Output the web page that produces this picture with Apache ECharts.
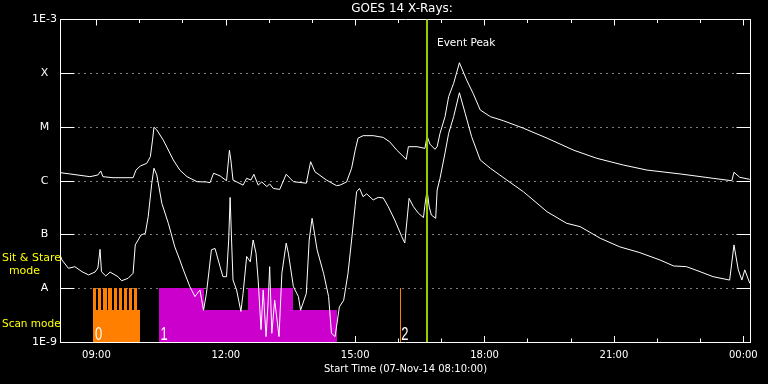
<!DOCTYPE html>
<html><head><meta charset="utf-8">
<script src="https://cdn.jsdelivr.net/npm/echarts@6/dist/echarts.min.js"></script>
<style>html,body{margin:0;padding:0;background:#000}#c{width:768px;height:384px}</style>
</head><body><div id="c"></div>
<script>
// ---- axis definition ----
const startTime = '08:10';
const endTime = '00:10';
const majorTicks = ['09:00','12:00','15:00','18:00','21:00','00:00'];
const hourTicks = ['09:00','10:00','11:00','12:00','13:00','14:00','15:00','16:00','17:00','18:00','19:00','20:00','21:00','22:00','23:00','00:00'];
const fluxMin = 1e-9, fluxMax = 1e-3;
const levelNames = {'-3':'1E-3','-4':'X','-5':'M','-6':'C','-7':'B','-8':'A','-9':'1E-9'};
const eventPeak = '16:39';

// ---- GOES 14 long channel (1-8 A), W/m^2 ----
const longChannel = [
 ['08:10',1.41e-6],['08:23',1.34e-6],['08:51',1.19e-6],['09:02',1.28e-6],['09:06',1.52e-6],['09:09',1.19e-6],
 ['09:23',1.14e-6],['09:51',1.14e-6],['09:55',1.58e-6],['10:01',1.88e-6],['10:10',2.11e-6],['10:15',2.8e-6],
 ['10:18',5.7e-6],['10:20',9.9e-6],['10:24',8.8e-6],['10:33',5.7e-6],['10:47',2.43e-6],['10:56',1.58e-6],
 ['11:06',1.19e-6],['11:20',9.6e-7],['11:33',9.5e-7],['11:38',9.2e-7],['11:43',1.38e-6],['11:52',1.23e-6],
 ['12:01',1.0e-6],['12:05',3.7e-6],['12:07',2.43e-6],['12:10',1.03e-6],['12:24',8.3e-7],['12:29',1.11e-6],
 ['12:35',1.03e-6],['12:39',1.32e-6],['12:45',8.3e-7],['12:50',9.5e-7],['12:57',7.8e-7],['13:01',8.7e-7],
 ['13:06',7.2e-7],['13:15',6.9e-7],['13:24',1.32e-6],['13:34',9.6e-7],['13:52',9.0e-7],['13:58',2.26e-6],
 ['14:04',1.47e-6],['14:20',1.03e-6],['14:34',8.1e-7],['14:39',8.3e-7],['14:48',9.5e-7],['14:55',1.71e-6],
 ['15:00',3.7e-6],['15:04',6.2e-6],['15:11',6.9e-6],['15:25',6.9e-6],['15:39',6.4e-6],['15:48',5.3e-6],
 ['15:58',3.7e-6],['16:05',3.0e-6],['16:11',2.5e-6],['16:14',4.3e-6],['16:26',4.3e-6],['16:37',4.0e-6],
 ['16:40',6.8e-6],['16:44',4.8e-6],['16:51',3.85e-6],['16:54',4.3e-6],['16:58',7.6e-6],['17:05',1.56e-5],
 ['17:10',3.66e-5],['17:17',6.5e-5],['17:25',1.57e-4],['17:35',7.5e-5],['17:44',4.24e-5],['17:54',2.07e-5],
 ['18:08',1.56e-5],['18:26',1.31e-5],['18:54',9.5e-6],['19:27',6.2e-6],['20:04',3.7e-6],['20:36',2.62e-6],
 ['21:13',1.96e-6],['21:46',1.58e-6],['22:32',1.34e-6],['23:18',1.11e-6],['23:44',1.0e-6],['23:47',1.44e-6],
 ['23:55',1.16e-6],['00:09',1.06e-6]
];

// ---- GOES 14 short channel (0.5-4 A), W/m^2 ----
const shortChannel = [
 ['08:10',3.98e-8],['08:12',3.36e-8],['08:21',2.35e-8],['08:30',2.52e-8],['08:40',2.03e-8],['08:49',1.77e-8],
 ['08:58',2.0e-8],['09:02',2.38e-8],['09:05',5.3e-8],['09:07',2.03e-8],['09:13',1.69e-8],['09:19',2.0e-8],
 ['09:30',1.64e-8],['09:35',1.38e-8],['09:44',1.53e-8],['09:51',1.9e-8],['09:54',6.4e-8],['09:58',7.9e-8],
 ['10:02',9.8e-8],['10:08',1.05e-7],['10:12',2.14e-7],['10:17',9.0e-7],['10:20',1.71e-6],['10:24',1.28e-6],
 ['10:31',3.8e-7],['10:40',1.62e-7],['10:49',5.9e-8],['10:56',3.36e-8],['11:01',2.19e-8],['11:10',1.07e-8],
 ['11:17',7.0e-9],['11:24',9.3e-9],['11:29',3.9e-9],['11:33',8.0e-9],['11:40',5.2e-8],['11:45',5.5e-8],
 ['11:52',2.52e-8],['11:56',1.64e-8],['12:01',1.64e-8],['12:04',7.9e-8],['12:06',4.9e-7],['12:08',7.9e-8],
 ['12:10',1.42e-8],['12:15',9.3e-9],['12:21',3.7e-9],['12:24',8.0e-9],['12:29',3.9e-8],['12:34',3.1e-8],
 ['12:38',7.9e-8],['12:42',4.5e-8],['12:45',1.42e-8],['12:49',1.7e-9],['12:52',9.3e-9],['12:56',1.26e-9],
 ['12:59',6.0e-9],['13:01',2.52e-8],['13:04',1.45e-9],['13:08',6.0e-9],['13:14',1.26e-9],['13:18',1.9e-8],
 ['13:24',6.9e-8],['13:27',4.5e-8],['13:34',1.07e-8],['13:41',7.0e-9],['13:44',3.9e-9],['13:52',8.0e-9],
 ['13:56',7.9e-8],['14:00',2.0e-7],['14:07',5.2e-8],['14:16',1.9e-8],['14:23',7.0e-9],['14:27',1.45e-9],
 ['14:32',1.26e-9],['14:38',4.5e-9],['14:44',6.0e-9],['14:50',1.9e-8],['14:55',7.9e-8],['15:00',3.5e-7],
 ['15:02',6.25e-7],['15:06',7.2e-7],['15:11',5.05e-7],['15:16',5.7e-7],['15:25',4.4e-7],['15:32',4.9e-7],
 ['15:39',4.8e-7],['15:46',3.3e-7],['15:55',1.86e-7],['16:05',9.0e-8],['16:09',6.95e-8],['16:15',4.7e-7],
 ['16:21',3.3e-7],['16:28',2.48e-7],['16:35',2.07e-7],['16:37',3.5e-7],['16:40',6.7e-7],['16:43',3.25e-7],
 ['16:46',2.3e-7],['16:52',2.0e-7],['16:54',6.7e-7],['16:58',1.11e-6],['17:05',3.3e-6],['17:10',7.6e-6],
 ['17:17',1.56e-5],['17:25',4.35e-5],['17:33',1.8e-5],['17:42',6.6e-6],['17:54',2.43e-6],['18:08',1.71e-6],
 ['18:31',1.03e-6],['18:54',6.25e-7],['19:27',2.65e-7],['19:54',1.62e-7],['20:13',1.4e-7],['20:41',8.5e-8],
 ['21:08',5.9e-8],['21:36',4.6e-8],['22:04',3.36e-8],['22:23',2.6e-8],['22:41',2.52e-8],['23:00',2.03e-8],
 ['23:18',1.64e-8],['23:41',1.42e-8],['23:47',6.4e-8],['23:53',2.2e-8],['23:58',1.42e-8],['00:02',2.2e-8],
 ['00:09',1.24e-8]
];

// ---- observing mode bars ----
const highLevel = 1e-8, lowLevel = 4e-9;
const scanBlocks = [['08:55','10:01']];
const scanStripeStarts = ['08:55','09:02','09:09','09:16','09:24','09:31','09:38','09:45','09:52'];
const scanStripeMinutes = 5;
const stareBlocks = [['10:27','11:30',highLevel],['11:30','12:31',lowLevel],['12:31','13:33',highLevel],['13:33','14:35',lowLevel]];
const scanMarks = ['16:03'];
const modeLabels = [['08:58','0'],['10:29','1'],['16:04','2']];

function toMin(s){const p=s.split(':');const h=+p[0],m=+p[1];let v=h*60+m;if(h<8)v+=1440;return v;}
function fmt(v){const h=Math.floor(v/60)%24, m=Math.round(v%60);return (h<10?'0':'')+h+':'+(m<10?'0':'')+m;}

const white='#ffffff', font='DejaVu Sans';
const xMin=toMin(startTime), xMax=toMin(endTime);
const majorVals=majorTicks.map(toMin), hourVals=hourTicks.map(toMin);

function xAx(pos, ticks, len, showLabel, showLine, extra){
  return Object.assign({
    type:'value', gridIndex:0, position:pos, min:xMin, max:xMax,
    axisLine:{show:showLine, onZero:false, lineStyle:{color:white,width:1}},
    axisTick:{show:true, inside:true, length:len, customValues:ticks, lineStyle:{color:white,width:1}},
    axisLabel:{show:showLabel, customValues:ticks, color:white, fontFamily:font, fontSize:10, margin:8, formatter:fmt},
    splitLine:{show:false}
  }, extra||{});
}
function yAx(pos, showLabel, split){
  return {
    type:'log', logBase:10, min:fluxMin, max:fluxMax, splitNumber:6, position:pos, gridIndex:0,
    axisLine:{show:true, lineStyle:{color:white,width:1}},
    axisTick:{show:true, inside:true, length:14, lineStyle:{color:white,width:1}},
    axisLabel:{show:showLabel, color:white, fontFamily:font, fontSize:11, align:'center', margin:16,
      showMinLabel:true, showMaxLabel:true,
      formatter:v=>levelNames[String(Math.round(Math.log10(v)))]||''},
    splitLine:{show:split, lineStyle:{color:white, width:1, type:[1,5]}},
    minorTick:{show:false}, minorSplitLine:{show:false}
  };
}

function rectRenderer(color){
  return function(params, api){
    const t0=api.value(0), t1=api.value(1), top=api.value(2);
    const p0=api.coord([t0, top]), p1=api.coord([t1, fluxMin]);
    const x0=Math.round(p0[0]), x1=Math.max(x0+1, Math.round(p1[0]));
    const y0=Math.round(p0[1]), y1=Math.round(p1[1]);
    return {type:'rect', shape:{x:x0, y:y0, width:x1-x0, height:y1-y0}, style:{fill:color}};
  };
}

const toPairs = arr => arr.map(d=>[toMin(d[0]), d[1]]);

const chart = echarts.init(document.getElementById('c'), null, {renderer:'canvas'});
chart.setOption({
  backgroundColor:'#000000',
  animation:false,
  grid:{left:60.5, right:17.5, top:19.5, bottom:42, containLabel:false},
  xAxis:[
    xAx('bottom', majorVals, 6, true, true, {name:'Start Time (07-Nov-14 08:10:00)', nameLocation:'middle', nameGap:22,
      nameTextStyle:{color:white, fontFamily:font, fontSize:10}}),
    xAx('bottom', hourVals, 3.5, false, false),
    xAx('top', majorVals, 6, false, true),
    xAx('top', hourVals, 3.5, false, false)
  ],
  yAxis:[ yAx('left', true, true), yAx('right', false, false) ],
  series:[
    {type:'custom', name:'scan-low', xAxisIndex:0, yAxisIndex:0, silent:true, z:1, clip:false,
      encode:{x:[0,1], y:2}, renderItem:rectRenderer('#ff8000'),
      data:scanBlocks.map(b=>[toMin(b[0]), toMin(b[1]), lowLevel])},
    {type:'custom', name:'scan-stripes', xAxisIndex:0, yAxisIndex:0, silent:true, z:1, clip:false,
      encode:{x:[0,1], y:2}, renderItem:rectRenderer('#ff8000'),
      data:scanStripeStarts.map(s=>[toMin(s), toMin(s)+scanStripeMinutes, highLevel])},
    {type:'custom', name:'scan-marks', xAxisIndex:0, yAxisIndex:0, silent:true, z:1, clip:false,
      encode:{x:[0,1], y:2}, renderItem:rectRenderer('#ff8000'),
      data:scanMarks.map(s=>[toMin(s), toMin(s), highLevel])},
    {type:'custom', name:'stare', xAxisIndex:0, yAxisIndex:0, silent:true, z:1, clip:false,
      encode:{x:[0,1], y:2}, renderItem:rectRenderer('#cc00cc'),
      data:stareBlocks.map(b=>[toMin(b[0]), toMin(b[1]), b[2]])},
    {type:'line', name:'long', xAxisIndex:0, yAxisIndex:0, z:3, showSymbol:false, symbol:'none',
      lineStyle:{color:white, width:1}, data:toPairs(longChannel)},
    {type:'line', name:'short', xAxisIndex:0, yAxisIndex:0, z:4, showSymbol:false, symbol:'none',
      lineStyle:{color:white, width:1}, data:toPairs(shortChannel),
      markLine:{symbol:'none', silent:true, animation:false, label:{show:false},
        lineStyle:{color:'#99cc00', width:2, type:'solid'}, data:[{xAxis:toMin(eventPeak)}]}},
    {type:'custom', name:'mode-labels', xAxisIndex:0, yAxisIndex:0, silent:true, z:5, clip:false,
      encode:{x:0, y:1},
      renderItem:function(params, api){
        const p=api.coord([api.value(0), api.value(1)]);
        return {type:'text', x:p[0], y:p[1]+2, scaleX:0.72,
          style:{text:modeLabels[params.dataIndex][1], fill:white, font:'18px "Liberation Sans"',
            textAlign:'left', textVerticalAlign:'bottom', align:'left', verticalAlign:'bottom'}};
      },
      data:modeLabels.map(l=>[toMin(l[0]), fluxMin])}
  ],
  graphic:[
    {type:'text', x:402, y:9, z:10, style:{text:'GOES 14 X-Rays:', fill:white, font:'12px "DejaVu Sans"', align:'center', verticalAlign:'middle'}},
    {type:'text', x:437, y:43, z:10, style:{text:'Event Peak', fill:white, font:'10.5px "DejaVu Sans"', align:'left', verticalAlign:'middle'}},
    {type:'text', x:2, y:258, z:10, style:{text:'Sit & Stare', fill:'#ffff00', font:'11px "DejaVu Sans"', align:'left', verticalAlign:'middle'}},
    {type:'text', x:24.5, y:271, z:10, style:{text:'mode', fill:'#ffff00', font:'11px "DejaVu Sans"', align:'center', verticalAlign:'middle'}},
    {type:'text', x:2, y:324, z:10, style:{text:'Scan mode', fill:'#ffff00', font:'10.5px "DejaVu Sans"', align:'left', verticalAlign:'middle'}}
  ]
});
</script></body></html>
